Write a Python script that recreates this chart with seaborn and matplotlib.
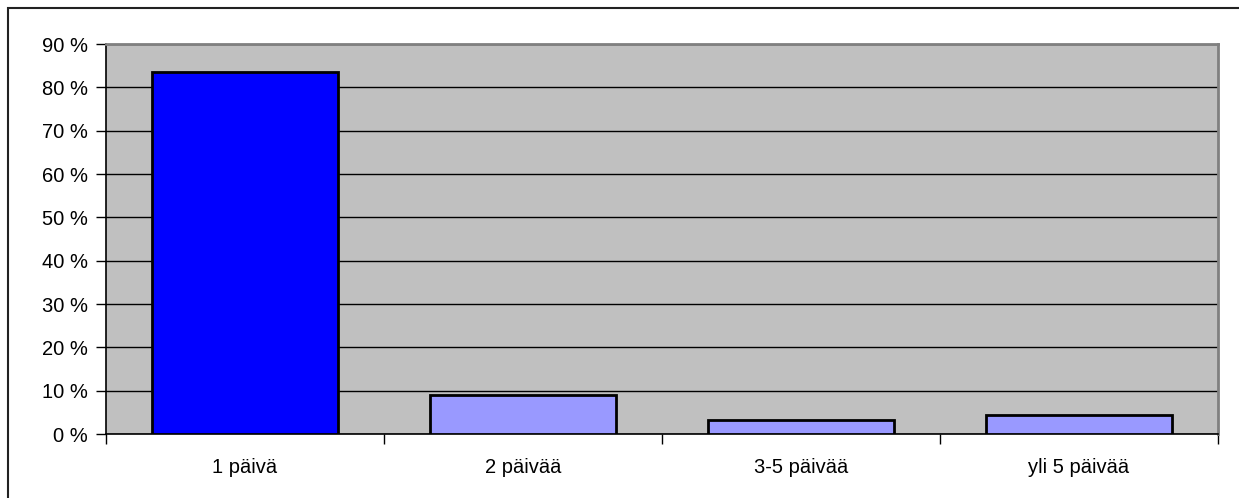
import matplotlib
matplotlib.use("Agg")
import matplotlib.pyplot as plt
from matplotlib.patches import Rectangle
from matplotlib.ticker import FixedLocator, FuncFormatter
import seaborn as sns
import pandas as pd

categories = ["1 päivä", "2 päivää", "3-5 päivää", "yli 5 päivää"]
shares = [83.6, 8.9, 3.2, 4.3]
bar_colors = ["#0000FF", "#9999FF", "#9999FF", "#9999FF"]

sns.set_style("white")
plt.rcParams["font.family"] = ["Liberation Sans", "DejaVu Sans"]
plt.rcParams["text.color"] = "black"
plt.rcParams["xtick.color"] = "black"
plt.rcParams["ytick.color"] = "black"

df = pd.DataFrame({"kesto": categories, "osuus": shares})

fig = plt.figure(figsize=(12.39, 4.98), dpi=100)
ax = fig.add_axes([106 / 1239, 64 / 498, 1112 / 1239, 390 / 498])
ax.set_facecolor("#C0C0C0")

sns.barplot(data=df, x="kesto", y="osuus", hue="kesto", palette=bar_colors,
            legend=False, width=0.67, edgecolor="black", linewidth=2,
            saturation=1, ax=ax, zorder=3)

ax.set_ylim(0, 90)
ax.set_xlim(-0.5, len(categories) - 0.5)
ax.yaxis.set_major_locator(FixedLocator(range(0, 91, 10)))
ax.yaxis.set_major_formatter(FuncFormatter(lambda v, p: f"{int(v)} %"))
ax.grid(axis="y", color="black", linewidth=1, zorder=1)
ax.set_axisbelow(True)
ax.set_xlabel("")
ax.set_ylabel("")

# category boundary ticks on the x axis
ax.set_xticks([i - 0.5 for i in range(len(categories) + 1)], minor=True)
ax.tick_params(axis="x", which="minor", length=7, width=1, color="black",
               direction="out", bottom=True)
ax.tick_params(axis="x", which="major", length=0, pad=17, labelsize=14.5,
               labelcolor="black")
ax.tick_params(axis="y", length=7, width=1, color="black", direction="out",
               left=True, pad=6, labelsize=14.5, labelcolor="black")

for side in ["left", "bottom"]:
    ax.spines[side].set_color("black")
    ax.spines[side].set_linewidth(1.2)
for side in ["top", "right"]:
    ax.spines[side].set_color("#808080")
    ax.spines[side].set_linewidth(2)

# frame around the whole chart
fig.patches.append(Rectangle((7.5 / 1239, -0.02), 1.05, 1 - 8.5 / 498 + 0.02,
                             transform=fig.transFigure, fill=False,
                             edgecolor="#222222", linewidth=1.5))

fig.savefig("out.png", dpi=100)
